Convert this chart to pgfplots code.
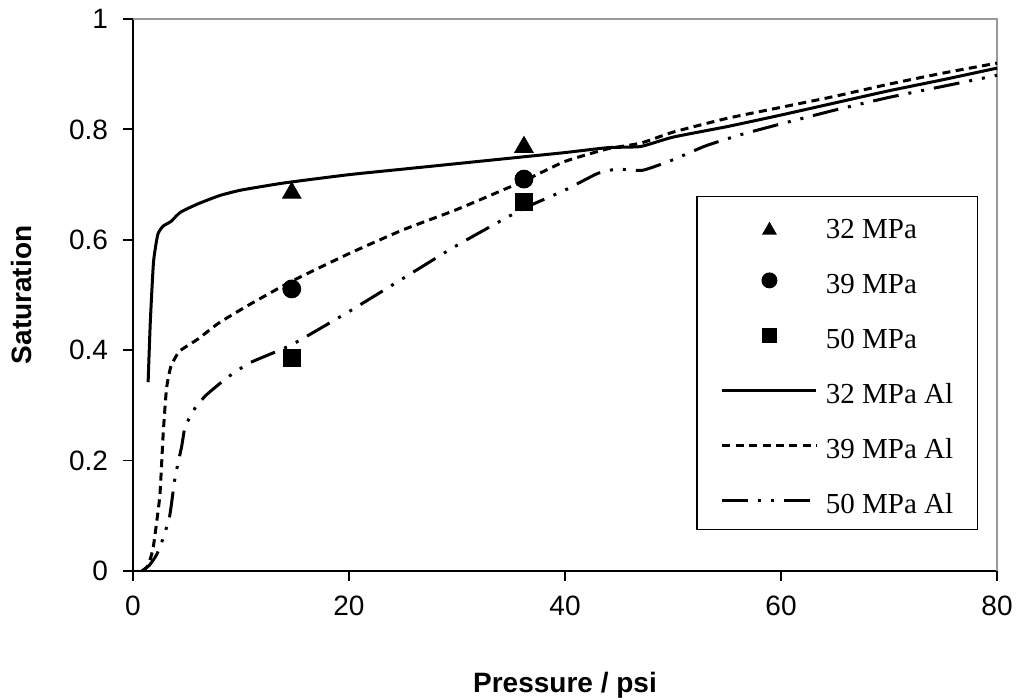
\documentclass[border=0pt]{standalone}
\usepackage{fontspec}
\setmainfont{Liberation Sans}
\newfontfamily\legfont{Liberation Serif}
\usepackage{pgfplots}
\pgfplotsset{compat=1.18}
\pgfplotsset{
  mleg/.style={legend image code/.code={\draw[##1] plot coordinates {(23.5pt,0pt)};}},
  tleg/.style={legend image code/.code={\draw[##1] plot coordinates {(23.5pt,-2.5pt)};}},
  lleg/.style={legend image code/.code={\draw[##1] (0pt,0pt) -- (47pt,0pt);}},
}
\begin{document}
\begin{tikzpicture}
\begin{axis}[
  name=ax,
  scale only axis,
  width=432pt, height=276pt,
  xmin=0, xmax=80, ymin=0, ymax=1,
  xtick={0,20,40,60,80},
  ytick={0,0.2,0.4,0.6,0.8,1},
  axis x line*=bottom, axis y line*=left,
  axis line style={line width=0.9pt,-},
  tick align=outside,
  major tick length=5pt,
  tick style={line width=0.9pt,black},
  /pgf/number format/assume math mode=true,
  ticklabel style={font=\fontsize{14}{16}\selectfont},
  xticklabel style={yshift=-4pt},
  yticklabel style={xshift=-4pt},
  xlabel={\textbf{Pressure / psi}},
  ylabel={\textbf{Saturation}},
  xlabel style={at={(axis description cs:0.5,-0.2065)}, anchor=center, font=\fontsize{14}{16}\selectfont},
  ylabel style={at={(axis description cs:-0.1285,0.5)}, anchor=center, font=\fontsize{14}{16}\selectfont},
  clip=false,
  legend style={
    at={(axis description cs:0.978,0.074)}, anchor=south east,
    draw=black, line width=0.75pt,
    inner xsep=12pt, inner ysep=8pt,
    font=\legfont\fontsize{14.5}{17}\selectfont,
    nodes={text height=13pt, text depth=0pt, inner sep=0pt},
    row sep=14.5pt,
    /tikz/every odd column/.append style={column sep=4pt},
  },
  legend cell align=left,
]
\draw[gray!80, line width=1.2pt] (rel axis cs:0,1) -- (rel axis cs:1,1) -- (rel axis cs:1,0);

\addplot[only marks, mark=triangle*, mark size=5.3pt, black, tleg,
  legend image post style={mark size=3.6pt}]
  coordinates {(14.7,0.685) (36.2,0.768)};
\addlegendentry{32 MPa}
\addplot[only marks, mark=*, mark size=4.5pt, black, mleg,
  legend image post style={mark size=3.6pt}]
  coordinates {(14.7,0.511) (36.2,0.71)};
\addlegendentry{39 MPa}
\addplot[only marks, mark=square*, mark size=4.25pt, black, mleg,
  legend image post style={mark size=3.5pt}]
  coordinates {(14.7,0.386) (36.2,0.668)};
\addlegendentry{50 MPa}

\addplot[black, line width=1.5pt, no marks, smooth, tension=0.3, lleg] coordinates {
(1.4,0.342) (1.6,0.45) (1.9,0.56) (2.3,0.61) (2.8,0.625) (3.5,0.633) (4.4,0.65)
(6,0.665) (8,0.68) (10,0.69) (14,0.703) (20,0.718) (25,0.728) (30,0.738)
(36,0.75) (40,0.758) (44,0.767) (47,0.769) (50,0.786) (55,0.805) (60,0.826)
(65,0.848) (70,0.87) (75,0.89) (80,0.911)};
\addlegendentry{32 MPa Al}

\addplot[black, line width=1.5pt, no marks, smooth, tension=0.3, lleg, dash pattern=on 4pt off 2.7pt] coordinates {
(0.9,0) (1.4,0.01) (1.85,0.04) (2.2,0.09) (2.5,0.14) (2.8,0.25) (3.1,0.33)
(3.5,0.37) (4.3,0.398) (6,0.42) (8,0.45) (11,0.485) (14.7,0.525) (20,0.575)
(25,0.618) (30,0.655) (36,0.705) (40,0.742) (44,0.765) (47,0.775) (50,0.795)
(55,0.82) (60,0.84) (65,0.86) (70,0.882) (75,0.902) (80,0.92)};
\addlegendentry{39 MPa Al}

\addplot[black, line width=1.5pt, no marks, smooth, tension=0.3, lleg,
  dash pattern=on 13pt off 5pt on 1.5pt off 5pt on 1.5pt off 5pt] coordinates {
(0.8,0) (1.5,0.01) (2.2,0.03) (2.8,0.06) (3.4,0.10) (3.9,0.17) (4.5,0.225)
(4.8,0.26) (5.3,0.28) (5.9,0.30) (6.85,0.32) (8.7,0.35) (10.8,0.377)
(14.7,0.41) (20,0.47) (25,0.53) (30,0.59) (36,0.655) (40,0.69) (43,0.72)
(44.8,0.728) (47.2,0.726) (50,0.745) (53,0.77) (56.2,0.79) (60,0.81)
(65,0.835) (70,0.858) (75,0.878) (80,0.898)};
\addlegendentry{50 MPa Al}
\end{axis}
\pgfresetboundingbox
\path ([shift={(-66.5pt,-64pt)}]ax.south west) rectangle ([shift={(13.5pt,9.5pt)}]ax.north east);
\end{tikzpicture}
\end{document}
